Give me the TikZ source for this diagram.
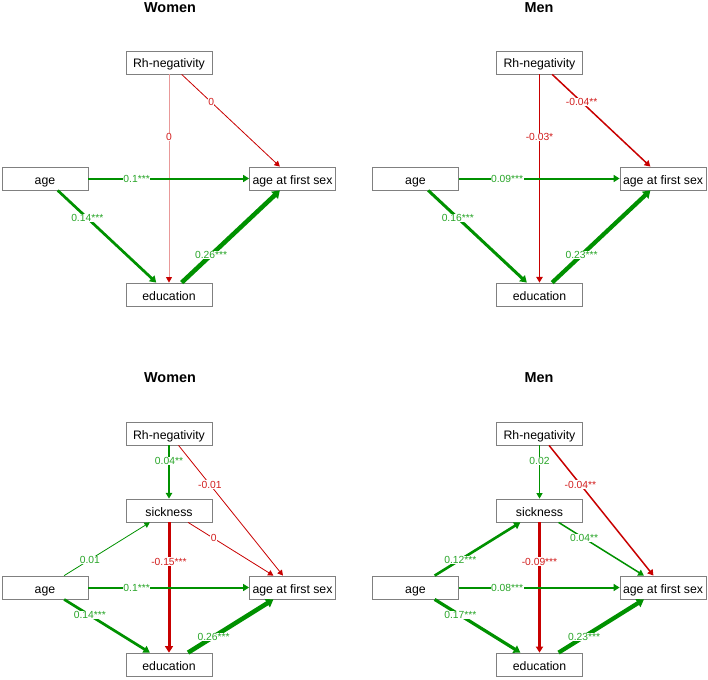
\documentclass[tikz,border=0pt]{standalone}
\usepackage{fontspec}
\setmainfont{Liberation Sans}
\usetikzlibrary{arrows.meta}
\definecolor{plusline}{RGB}{0,145,0}
\definecolor{minusline}{RGB}{200,0,0}
\definecolor{pluslab}{RGB}{40,165,40}
\definecolor{minuslab}{RGB}{210,30,30}
\begin{document}
\begin{tikzpicture}[x=1pt,y=-1pt]
	\tikzstyle{Box} = [rectangle, draw=gray, line width=0.8pt, fill=white, minimum width=86pt, minimum height=23pt, inner sep=0pt, text height=11.5pt, text depth=0.5pt, font=\fontsize{12.3}{14}\selectfont]
	\tikzstyle{Title} = [font=\bfseries\fontsize{14.4}{16}\selectfont]
	\tikzstyle{Plus} = [draw=plusline, -{Triangle[length=5pt 0.5,width=5pt 1]}]
	\tikzstyle{Minus} = [draw=minusline, -{Triangle[length=5pt 0.5,width=5pt 1]}]
	\tikzstyle{Faint} = [draw=minusline!40, -{Triangle[length=5pt 0.5,width=5pt 1,color=minusline]}]
	\tikzstyle{LabP} = [pos=0.3, fill=white, inner sep=0.4pt, text=pluslab, font=\fontsize{10.3}{12}\selectfont]
	\tikzstyle{LabN} = [pos=0.3, fill=white, inner sep=0.4pt, text=minuslab, font=\fontsize{10.3}{12}\selectfont]
	\useasboundingbox (0,0) rectangle (708,679);
	% titles
	\node (T1) at (170,8) [Title] {Women};
	\node (T2) at (539,8) [Title] {Men};
	\node (T3) at (170,378) [Title] {Women};
	\node (T4) at (539,378) [Title] {Men};
	% women, without sickness
	\node (R1) at (169,62.5) [Box] {Rh-negativity};
	\node (A1) at (45,178.5) [Box] {age};
	\node (F1) at (292.5,178.5) [Box] {age at first sex};
	\node (E1) at (169,294.5) [Box] {education};
	\draw [Faint, line width=0.8pt] (R1) to node[LabN] {0} (E1);
	\draw [Minus, line width=0.8pt] (R1) to node[LabN] {0} (F1);
	\draw [Plus, line width=2pt] (A1) to node[LabP] {0.1***} (F1);
	\draw [Plus, line width=2.7pt] (A1) to node[LabP] {0.14***} (E1);
	\draw [Plus, line width=4.5pt] (E1) to node[LabP] {0.26***} (F1);
	% men, without sickness
	\node (R2) at (539.5,62.5) [Box] {Rh-negativity};
	\node (A2) at (415.5,178.5) [Box] {age};
	\node (F2) at (663,178.5) [Box] {age at first sex};
	\node (E2) at (539.5,294.5) [Box] {education};
	\draw [Minus, line width=1.3pt] (R2) to node[LabN] {-0.03*} (E2);
	\draw [Minus, line width=1.5pt] (R2) to node[LabN] {-0.04**} (F2);
	\draw [Plus, line width=2pt] (A2) to node[LabP] {0.09***} (F2);
	\draw [Plus, line width=3pt] (A2) to node[LabP] {0.16***} (E2);
	\draw [Plus, line width=4.2pt] (E2) to node[LabP] {0.23***} (F2);
	% women, with sickness
	\node (R3) at (169,433.5) [Box] {Rh-negativity};
	\node (S3) at (169,510.5) [Box] {sickness};
	\node (A3) at (45,587.5) [Box] {age};
	\node (F3) at (292.5,587.5) [Box] {age at first sex};
	\node (E3) at (169,664.5) [Box] {education};
	\draw [Plus, line width=1.3pt] (R3) to node[LabP] {0.04**} (S3);
	\draw [Minus, line width=0.8pt] (R3) to node[LabN] {-0.01} (F3);
	\draw [Minus, line width=0.8pt] (S3) to node[LabN] {0} (F3);
	\draw [Minus, line width=3pt] (S3) to node[LabN] {-0.15***} (E3);
	\draw [Plus, line width=0.8pt] (A3) to node[LabP] {0.01} (S3);
	\draw [Plus, line width=2pt] (A3) to node[LabP] {0.1***} (F3);
	\draw [Plus, line width=2.7pt] (A3) to node[LabP] {0.14***} (E3);
	\draw [Plus, line width=4.5pt] (E3) to node[LabP] {0.26***} (F3);
	% men, with sickness
	\node (R4) at (539.5,433.5) [Box] {Rh-negativity};
	\node (S4) at (539.5,510.5) [Box] {sickness};
	\node (A4) at (415.5,587.5) [Box] {age};
	\node (F4) at (663,587.5) [Box] {age at first sex};
	\node (E4) at (539.5,664.5) [Box] {education};
	\draw [Plus, line width=1pt] (R4) to node[LabP] {0.02} (S4);
	\draw [Minus, line width=1.5pt] (R4) to node[LabN] {-0.04**} (F4);
	\draw [Plus, line width=1.5pt] (S4) to node[LabP] {0.04**} (F4);
	\draw [Minus, line width=2.2pt] (S4) to node[LabN] {-0.09***} (E4);
	\draw [Plus, line width=2.6pt] (A4) to node[LabP] {0.12***} (S4);
	\draw [Plus, line width=2pt] (A4) to node[LabP] {0.08***} (F4);
	\draw [Plus, line width=3.2pt] (A4) to node[LabP] {0.17***} (E4);
	\draw [Plus, line width=4.2pt] (E4) to node[LabP] {0.23***} (F4);
\end{tikzpicture}
\end{document}
